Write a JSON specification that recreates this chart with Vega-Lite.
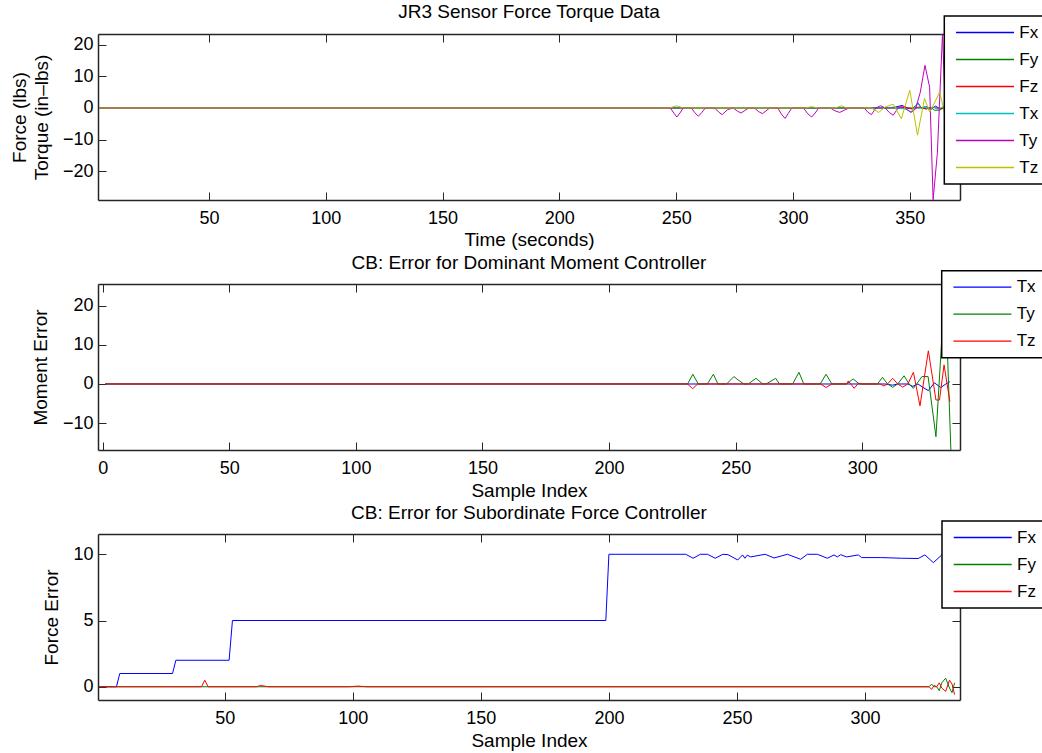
{
  "$schema": "https://vega.github.io/schema/vega-lite/v6.json",
  "background": "white",
  "padding": {"left": 9, "top": 3, "right": -6, "bottom": 3},
  "bounds": "flush",
  "spacing": 84,
  "resolve": {"scale": {"color": "independent"}, "legend": {"color": "independent"}},
  "datasets": {
    "jr3": [
      {"x": 3, "y": 0, "s": "Fx"}, {"x": 340, "y": 0, "s": "Fx"}, {"x": 344, "y": 0.3, "s": "Fx"}, {"x": 346.7, "y": 0.8, "s": "Fx"}, {"x": 349, "y": 0, "s": "Fx"}, {"x": 351, "y": -0.3, "s": "Fx"}, {"x": 353.6, "y": 1.5, "s": "Fx"}, {"x": 355, "y": 0, "s": "Fx"}, {"x": 357, "y": 0.4, "s": "Fx"}, {"x": 359, "y": -0.5, "s": "Fx"}, {"x": 361, "y": 0.6, "s": "Fx"}, {"x": 363, "y": -0.3, "s": "Fx"}, {"x": 366, "y": 0.5, "s": "Fx"}, {"x": 369, "y": -0.4, "s": "Fx"}, {"x": 371, "y": 0.2, "s": "Fx"},
      {"x": 3, "y": 0, "s": "Fy"}, {"x": 355, "y": 0, "s": "Fy"}, {"x": 357, "y": -0.3, "s": "Fy"}, {"x": 359, "y": 0.2, "s": "Fy"}, {"x": 360.5, "y": -0.7, "s": "Fy"}, {"x": 362.8, "y": -0.7, "s": "Fy"}, {"x": 365, "y": 0.3, "s": "Fy"}, {"x": 368, "y": -0.5, "s": "Fy"}, {"x": 371, "y": 0.2, "s": "Fy"},
      {"x": 3, "y": 0, "s": "Fz"}, {"x": 345, "y": 0, "s": "Fz"}, {"x": 348, "y": 0.2, "s": "Fz"}, {"x": 351, "y": -0.2, "s": "Fz"}, {"x": 354, "y": 0.3, "s": "Fz"}, {"x": 357, "y": -0.3, "s": "Fz"}, {"x": 360, "y": 0.2, "s": "Fz"}, {"x": 363, "y": -0.2, "s": "Fz"}, {"x": 367, "y": 0.3, "s": "Fz"}, {"x": 371, "y": 0, "s": "Fz"},
      {"x": 3, "y": 0, "s": "Tx"}, {"x": 345, "y": 0, "s": "Tx"}, {"x": 348, "y": -0.3, "s": "Tx"}, {"x": 350.6, "y": -1.3, "s": "Tx"}, {"x": 353.3, "y": 1.6, "s": "Tx"}, {"x": 355, "y": -0.2, "s": "Tx"}, {"x": 356.5, "y": 0.5, "s": "Tx"}, {"x": 358, "y": -0.5, "s": "Tx"}, {"x": 360, "y": 0.3, "s": "Tx"}, {"x": 362, "y": -0.4, "s": "Tx"}, {"x": 365, "y": 0.6, "s": "Tx"}, {"x": 368, "y": -0.8, "s": "Tx"}, {"x": 371, "y": 0.3, "s": "Tx"},
      {"x": 3, "y": 0, "s": "Ty"}, {"x": 247.5, "y": 0, "s": "Ty"}, {"x": 249, "y": -1.6, "s": "Ty"}, {"x": 250.3, "y": -2.85, "s": "Ty"}, {"x": 251.6, "y": -1.6, "s": "Ty"}, {"x": 253, "y": 0, "s": "Ty"}, {"x": 256.5, "y": 0, "s": "Ty"}, {"x": 258, "y": -1.5, "s": "Ty"}, {"x": 259.5, "y": -2.6, "s": "Ty"}, {"x": 261, "y": -1.4, "s": "Ty"}, {"x": 262.5, "y": 0, "s": "Ty"}, {"x": 266.5, "y": 0, "s": "Ty"}, {"x": 268.2, "y": -1.3, "s": "Ty"}, {"x": 269.7, "y": -2.1, "s": "Ty"}, {"x": 272, "y": -0.5, "s": "Ty"}, {"x": 274.5, "y": 0, "s": "Ty"}, {"x": 276.2, "y": -1.0, "s": "Ty"}, {"x": 277.8, "y": -1.6, "s": "Ty"}, {"x": 279.4, "y": -0.8, "s": "Ty"}, {"x": 281, "y": 0, "s": "Ty"}, {"x": 283.5, "y": 0, "s": "Ty"}, {"x": 285.2, "y": -1.1, "s": "Ty"}, {"x": 286.9, "y": -1.8, "s": "Ty"}, {"x": 288.5, "y": -0.9, "s": "Ty"}, {"x": 290, "y": 0, "s": "Ty"}, {"x": 293.5, "y": 0, "s": "Ty"}, {"x": 295.1, "y": -2.0, "s": "Ty"}, {"x": 296.6, "y": -3.3, "s": "Ty"}, {"x": 298, "y": -1.7, "s": "Ty"}, {"x": 299.5, "y": 0, "s": "Ty"}, {"x": 304.5, "y": 0, "s": "Ty"}, {"x": 306.3, "y": -1.8, "s": "Ty"}, {"x": 308, "y": -2.85, "s": "Ty"}, {"x": 309.5, "y": -1.6, "s": "Ty"}, {"x": 311, "y": 0, "s": "Ty"}, {"x": 316, "y": 0, "s": "Ty"}, {"x": 318, "y": -0.9, "s": "Ty"}, {"x": 320, "y": -1.4, "s": "Ty"}, {"x": 322, "y": -0.7, "s": "Ty"}, {"x": 324, "y": 0, "s": "Ty"}, {"x": 330.5, "y": 0, "s": "Ty"}, {"x": 332, "y": -1.3, "s": "Ty"}, {"x": 333.6, "y": -2.1, "s": "Ty"}, {"x": 335.5, "y": 0, "s": "Ty"}, {"x": 337.5, "y": 0.7, "s": "Ty"}, {"x": 339.5, "y": 0, "s": "Ty"}, {"x": 341.2, "y": -1.4, "s": "Ty"}, {"x": 342.9, "y": -2.3, "s": "Ty"}, {"x": 345, "y": 0, "s": "Ty"}, {"x": 346.4, "y": 0.5, "s": "Ty"}, {"x": 348, "y": 0, "s": "Ty"}, {"x": 350.5, "y": -1.4, "s": "Ty"}, {"x": 352.5, "y": -0.3, "s": "Ty"}, {"x": 354.5, "y": 5, "s": "Ty"}, {"x": 356.5, "y": 13.5, "s": "Ty"}, {"x": 358.5, "y": 6.6, "s": "Ty"}, {"x": 360, "y": -29, "s": "Ty"}, {"x": 361.8, "y": -14.4, "s": "Ty"}, {"x": 364, "y": 23.3, "s": "Ty"}, {"x": 365.5, "y": -5, "s": "Ty"}, {"x": 367.5, "y": 8, "s": "Ty"}, {"x": 369.5, "y": -3, "s": "Ty"}, {"x": 371, "y": 2, "s": "Ty"},
      {"x": 3, "y": 0, "s": "Tz"}, {"x": 247, "y": 0, "s": "Tz"}, {"x": 250.3, "y": 0.7, "s": "Tz"}, {"x": 253, "y": 0, "s": "Tz"}, {"x": 305, "y": 0, "s": "Tz"}, {"x": 308, "y": 0.4, "s": "Tz"}, {"x": 311, "y": 0, "s": "Tz"}, {"x": 318, "y": 0, "s": "Tz"}, {"x": 320.8, "y": 0.7, "s": "Tz"}, {"x": 323, "y": 0, "s": "Tz"}, {"x": 333.6, "y": 0, "s": "Tz"}, {"x": 336.7, "y": -1.4, "s": "Tz"}, {"x": 339.5, "y": 0.3, "s": "Tz"}, {"x": 342.9, "y": 1.2, "s": "Tz"}, {"x": 346.4, "y": -3.4, "s": "Tz"}, {"x": 350, "y": 5.6, "s": "Tz"}, {"x": 353.3, "y": -8.6, "s": "Tz"}, {"x": 356.3, "y": 3.0, "s": "Tz"}, {"x": 358.5, "y": -1.3, "s": "Tz"}, {"x": 360.5, "y": 1.5, "s": "Tz"}, {"x": 362.8, "y": 5.1, "s": "Tz"}, {"x": 365, "y": -2, "s": "Tz"}, {"x": 368, "y": 3, "s": "Tz"}, {"x": 371, "y": -1, "s": "Tz"}
    ],
    "moment": [
      {"x": 1, "y": 0, "m": "Tx"}, {"x": 309, "y": 0, "m": "Tx"}, {"x": 312, "y": -0.3, "m": "Tx"}, {"x": 314, "y": 0, "m": "Tx"}, {"x": 318, "y": 0, "m": "Tx"}, {"x": 320, "y": -0.6, "m": "Tx"}, {"x": 322, "y": 0, "m": "Tx"}, {"x": 323.6, "y": -0.7, "m": "Tx"}, {"x": 326.1, "y": -1.7, "m": "Tx"}, {"x": 328.5, "y": 0.3, "m": "Tx"}, {"x": 331, "y": -0.9, "m": "Tx"}, {"x": 333, "y": 0, "m": "Tx"}, {"x": 334.6, "y": 0.6, "m": "Tx"},
      {"x": 1, "y": 0, "m": "Ty"}, {"x": 231, "y": 0, "m": "Ty"}, {"x": 233.1, "y": 2.5, "m": "Ty"}, {"x": 235.2, "y": 0, "m": "Ty"}, {"x": 238.8, "y": 0, "m": "Ty"}, {"x": 241.2, "y": 2.5, "m": "Ty"}, {"x": 243, "y": 0, "m": "Ty"}, {"x": 246.4, "y": 0, "m": "Ty"}, {"x": 249.3, "y": 1.9, "m": "Ty"}, {"x": 251, "y": 1.0, "m": "Ty"}, {"x": 253.3, "y": 0, "m": "Ty"}, {"x": 255, "y": 0, "m": "Ty"}, {"x": 258, "y": 1.45, "m": "Ty"}, {"x": 260.7, "y": 0, "m": "Ty"}, {"x": 262, "y": 0, "m": "Ty"}, {"x": 265.8, "y": 1.45, "m": "Ty"}, {"x": 267.3, "y": 0, "m": "Ty"}, {"x": 272.5, "y": 0, "m": "Ty"}, {"x": 275, "y": 3.0, "m": "Ty"}, {"x": 276.9, "y": 0, "m": "Ty"}, {"x": 283.4, "y": 0, "m": "Ty"}, {"x": 285.7, "y": 2.5, "m": "Ty"}, {"x": 288, "y": 0, "m": "Ty"}, {"x": 293.8, "y": 0, "m": "Ty"}, {"x": 296.4, "y": 1.3, "m": "Ty"}, {"x": 298.8, "y": 0, "m": "Ty"}, {"x": 306, "y": 0, "m": "Ty"}, {"x": 308, "y": 1.7, "m": "Ty"}, {"x": 310, "y": 0, "m": "Ty"}, {"x": 312, "y": -0.85, "m": "Ty"}, {"x": 314, "y": 0, "m": "Ty"}, {"x": 316.5, "y": 2.1, "m": "Ty"}, {"x": 318.5, "y": 0, "m": "Ty"}, {"x": 320.2, "y": -1.1, "m": "Ty"}, {"x": 322, "y": 0.5, "m": "Ty"}, {"x": 323.6, "y": 1.9, "m": "Ty"}, {"x": 326, "y": 1.9, "m": "Ty"}, {"x": 329.1, "y": -13.5, "m": "Ty"}, {"x": 332.7, "y": 25.6, "m": "Ty"}, {"x": 335, "y": -16.9, "m": "Ty"},
      {"x": 1, "y": 0, "m": "Tz"}, {"x": 231, "y": 0, "m": "Tz"}, {"x": 233, "y": -1.2, "m": "Tz"}, {"x": 235, "y": 0, "m": "Tz"}, {"x": 283.5, "y": 0, "m": "Tz"}, {"x": 285.7, "y": -0.9, "m": "Tz"}, {"x": 288, "y": 0, "m": "Tz"}, {"x": 293.8, "y": 0, "m": "Tz"}, {"x": 294.5, "y": 0.8, "m": "Tz"}, {"x": 296.8, "y": -1.1, "m": "Tz"}, {"x": 298.5, "y": 0.2, "m": "Tz"}, {"x": 300, "y": 0, "m": "Tz"}, {"x": 307, "y": 0, "m": "Tz"}, {"x": 308.5, "y": -0.5, "m": "Tz"}, {"x": 310, "y": 0, "m": "Tz"}, {"x": 312, "y": 1.45, "m": "Tz"}, {"x": 314, "y": 0, "m": "Tz"}, {"x": 316, "y": -0.8, "m": "Tz"}, {"x": 318, "y": 0, "m": "Tz"}, {"x": 320.2, "y": 3.0, "m": "Tz"}, {"x": 322.8, "y": -5.6, "m": "Tz"}, {"x": 326.1, "y": 8.5, "m": "Tz"}, {"x": 329.1, "y": -4.1, "m": "Tz"}, {"x": 330.5, "y": -4.1, "m": "Tz"}, {"x": 332.3, "y": 4.9, "m": "Tz"}, {"x": 334.6, "y": -4.5, "m": "Tz"}
    ],
    "force": [
      {"x": 1, "y": 0, "f": "Fx"}, {"x": 7.7, "y": 0, "f": "Fx"}, {"x": 9, "y": 1, "f": "Fx"}, {"x": 29.6, "y": 1, "f": "Fx"}, {"x": 30.9, "y": 2, "f": "Fx"}, {"x": 51.7, "y": 2, "f": "Fx"}, {"x": 53, "y": 5, "f": "Fx"}, {"x": 198.8, "y": 5, "f": "Fx"}, {"x": 200, "y": 10, "f": "Fx"}, {"x": 230, "y": 10, "f": "Fx"}, {"x": 232.9, "y": 9.7, "f": "Fx"}, {"x": 235.7, "y": 10, "f": "Fx"}, {"x": 238.5, "y": 10, "f": "Fx"}, {"x": 241.5, "y": 9.7, "f": "Fx"}, {"x": 244.5, "y": 10, "f": "Fx"}, {"x": 246.5, "y": 9.97, "f": "Fx"}, {"x": 250.3, "y": 9.57, "f": "Fx"}, {"x": 252.2, "y": 9.95, "f": "Fx"}, {"x": 253.1, "y": 9.7, "f": "Fx"}, {"x": 254, "y": 9.93, "f": "Fx"}, {"x": 255.4, "y": 9.8, "f": "Fx"}, {"x": 261, "y": 10, "f": "Fx"}, {"x": 264.5, "y": 9.72, "f": "Fx"}, {"x": 269.7, "y": 10, "f": "Fx"}, {"x": 274.9, "y": 9.62, "f": "Fx"}, {"x": 277.5, "y": 10, "f": "Fx"}, {"x": 281.4, "y": 10, "f": "Fx"}, {"x": 285.3, "y": 9.7, "f": "Fx"}, {"x": 287.9, "y": 9.95, "f": "Fx"}, {"x": 289.2, "y": 9.8, "f": "Fx"}, {"x": 290.5, "y": 9.97, "f": "Fx"}, {"x": 292.8, "y": 9.8, "f": "Fx"}, {"x": 297.4, "y": 9.95, "f": "Fx"}, {"x": 298.7, "y": 9.75, "f": "Fx"}, {"x": 306.5, "y": 9.75, "f": "Fx"}, {"x": 314.3, "y": 9.7, "f": "Fx"}, {"x": 320.8, "y": 9.68, "f": "Fx"}, {"x": 323.4, "y": 9.95, "f": "Fx"}, {"x": 326.7, "y": 9.37, "f": "Fx"}, {"x": 330, "y": 9.95, "f": "Fx"}, {"x": 332, "y": 10, "f": "Fx"}, {"x": 335, "y": 9.95, "f": "Fx"},
      {"x": 1, "y": 0, "f": "Fy"}, {"x": 325, "y": 0, "f": "Fy"}, {"x": 326, "y": 0.2, "f": "Fy"}, {"x": 327, "y": 0, "f": "Fy"}, {"x": 328, "y": 0, "f": "Fy"}, {"x": 329, "y": -0.3, "f": "Fy"}, {"x": 330, "y": 0.3, "f": "Fy"}, {"x": 331.5, "y": 0.65, "f": "Fy"}, {"x": 333, "y": -0.1, "f": "Fy"}, {"x": 334, "y": -0.45, "f": "Fy"}, {"x": 335, "y": 0.3, "f": "Fy"},
      {"x": 1, "y": 0, "f": "Fz"}, {"x": 40.9, "y": 0, "f": "Fz"}, {"x": 42.2, "y": 0.5, "f": "Fz"}, {"x": 43.5, "y": 0, "f": "Fz"}, {"x": 62.4, "y": 0, "f": "Fz"}, {"x": 64, "y": 0.1, "f": "Fz"}, {"x": 67, "y": 0, "f": "Fz"}, {"x": 98.8, "y": 0, "f": "Fz"}, {"x": 102, "y": 0.05, "f": "Fz"}, {"x": 105.4, "y": 0, "f": "Fz"}, {"x": 325, "y": 0, "f": "Fz"}, {"x": 326, "y": -0.2, "f": "Fz"}, {"x": 327, "y": 0.1, "f": "Fz"}, {"x": 328, "y": 0, "f": "Fz"}, {"x": 329, "y": 0.3, "f": "Fz"}, {"x": 330, "y": -0.1, "f": "Fz"}, {"x": 331.5, "y": -0.35, "f": "Fz"}, {"x": 333, "y": 0.5, "f": "Fz"}, {"x": 334, "y": 0.2, "f": "Fz"}, {"x": 335, "y": -0.6, "f": "Fz"}
    ]
  },
  "vconcat": [
    {
      "width": 862,
      "height": 166,
      "title": {"text": "JR3 Sensor Force Torque Data", "offset": -7},
      "data": {"name": "jr3"},
      "layer": [
        {
          "mark": {"type": "line", "strokeWidth": 1, "clip": true},
          "encoding": {
            "x": {"field": "x", "type": "quantitative", "scale": {"domain": [2.5, 371.5], "nice": false, "zero": false},
                  "axis": {"orient": "bottom", "values": [50, 100, 150, 200, 250, 300, 350], "title": "Time (seconds)", "titleY": 39, "titleBaseline": "middle"}},
            "y": {"field": "y", "type": "quantitative", "scale": {"domain": [-29.1, 23.4], "nice": false, "zero": false},
                  "axis": {"orient": "left", "values": [-20, -10, 0, 10, 20], "title": ["Force (lbs)", "Torque (in–lbs)"], "titleX": -79, "titleBaseline": "middle", "titleLineHeight": 22}},
            "color": {"field": "s", "type": "nominal",
                      "scale": {"domain": ["Fx", "Fy", "Fz", "Tx", "Ty", "Tz"], "range": ["#0000ff", "#008000", "#ff0000", "#00bfbf", "#bf00bf", "#bfbf00"]},
                      "legend": {"legendX": 846.3, "legendY": -18}}
          }
        },
        {
          "mark": {"type": "point", "opacity": 0},
          "encoding": {
            "x": {"field": "x", "type": "quantitative", "scale": {"domain": [2.5, 371.5], "nice": false, "zero": false},
                  "axis": {"orient": "top", "values": [50, 100, 150, 200, 250, 300, 350], "labels": false, "title": null}},
            "y": {"field": "y", "type": "quantitative", "scale": {"domain": [-29.1, 23.4], "nice": false, "zero": false},
                  "axis": {"orient": "right", "values": [-20, -10, 0, 10, 20], "labels": false, "title": null}}
          }
        }
      ],
      "resolve": {"axis": {"x": "independent", "y": "independent"}}
    },
    {
      "width": 862,
      "height": 166,
      "title": {"text": "CB: Error for Dominant Moment Controller", "offset": -3},
      "data": {"name": "moment"},
      "layer": [
        {
          "mark": {"type": "line", "strokeWidth": 1, "clip": true},
          "encoding": {
            "x": {"field": "x", "type": "quantitative", "scale": {"domain": [-1.85, 338.6], "nice": false, "zero": false},
                  "axis": {"orient": "bottom", "values": [0, 50, 100, 150, 200, 250, 300], "title": "Sample Index", "titleY": 40, "titleBaseline": "middle"}},
            "y": {"field": "y", "type": "quantitative", "scale": {"domain": [-16.9, 25.6], "nice": false, "zero": false},
                  "axis": {"orient": "left", "values": [-10, 0, 10, 20], "title": "Moment Error", "titleX": -57.5, "titleBaseline": "middle"}},
            "color": {"field": "m", "type": "nominal",
                      "scale": {"domain": ["Tx", "Ty", "Tz"], "range": ["#0000ff", "#008000", "#ff0000"]},
                      "legend": {"legendX": 843.7, "legendY": -13.3}}
          }
        },
        {
          "mark": {"type": "point", "opacity": 0},
          "encoding": {
            "x": {"field": "x", "type": "quantitative", "scale": {"domain": [-1.85, 338.6], "nice": false, "zero": false},
                  "axis": {"orient": "top", "values": [0, 50, 100, 150, 200, 250, 300], "labels": false, "title": null}},
            "y": {"field": "y", "type": "quantitative", "scale": {"domain": [-16.9, 25.6], "nice": false, "zero": false},
                  "axis": {"orient": "right", "values": [-10, 0, 10, 20], "labels": false, "title": null}}
          }
        }
      ],
      "resolve": {"axis": {"x": "independent", "y": "independent"}}
    },
    {
      "width": 862,
      "height": 166,
      "title": {"text": "CB: Error for Subordinate Force Controller", "offset": -3},
      "data": {"name": "force"},
      "layer": [
        {
          "mark": {"type": "line", "strokeWidth": 1, "clip": true},
          "encoding": {
            "x": {"field": "x", "type": "quantitative", "scale": {"domain": [0.5, 337.1], "nice": false, "zero": false},
                  "axis": {"orient": "bottom", "values": [50, 100, 150, 200, 250, 300], "title": "Sample Index", "titleY": 40, "titleBaseline": "middle"}},
            "y": {"field": "y", "type": "quantitative", "scale": {"domain": [-1.0, 11.53], "nice": false, "zero": false},
                  "axis": {"orient": "left", "values": [0, 5, 10], "title": "Force Error", "titleX": -47, "titleBaseline": "middle"}},
            "color": {"field": "f", "type": "nominal",
                      "scale": {"domain": ["Fx", "Fy", "Fz"], "range": ["#0000ff", "#008000", "#ff0000"]},
                      "legend": {"legendX": 844, "legendY": -13}}
          }
        },
        {
          "mark": {"type": "point", "opacity": 0},
          "encoding": {
            "x": {"field": "x", "type": "quantitative", "scale": {"domain": [0.5, 337.1], "nice": false, "zero": false},
                  "axis": {"orient": "top", "values": [50, 100, 150, 200, 250, 300], "labels": false, "title": null}},
            "y": {"field": "y", "type": "quantitative", "scale": {"domain": [-1.0, 11.53], "nice": false, "zero": false},
                  "axis": {"orient": "right", "values": [0, 5, 10], "labels": false, "title": null}}
          }
        }
      ],
      "resolve": {"axis": {"x": "independent", "y": "independent"}}
    }
  ],
  "config": {
    "font": "Liberation Sans",
    "view": {"stroke": null},
    "axis": {
      "grid": false,
      "domainColor": "#262626",
      "domainWidth": 1.5,
      "tickColor": "#262626",
      "tickWidth": 1,
      "tickSize": -8,
      "labelFont": "Liberation Sans",
      "labelFontSize": 18,
      "labelColor": "#000000",
      "labelFlush": false,
      "labelOverlap": false,
      "titleFont": "Liberation Sans",
      "titleFontSize": 19,
      "titleFontWeight": "normal",
      "titleColor": "#000000"
    },
    "axisX": {"labelPadding": 17},
    "axisY": {"labelPadding": 13},
    "legend": {
      "orient": "none",
      "title": null,
      "padding": 8,
      "rowPadding": 9,
      "fillColor": "white",
      "strokeColor": "black",
      "strokeWidth": 1.5,
      "symbolType": "M-2.4,0H26.6",
      "symbolSize": 16,
      "symbolStrokeWidth": 1.3,
      "symbolOpacity": 1,
      "labelFont": "Liberation Sans",
      "labelFontSize": 17,
      "labelColor": "#000000",
      "labelOffset": 50
    },
    "title": {
      "font": "Liberation Sans",
      "fontSize": 19,
      "fontWeight": "normal",
      "color": "#000000",
      "anchor": "middle",
      "frame": "group"
    }
  }
}
